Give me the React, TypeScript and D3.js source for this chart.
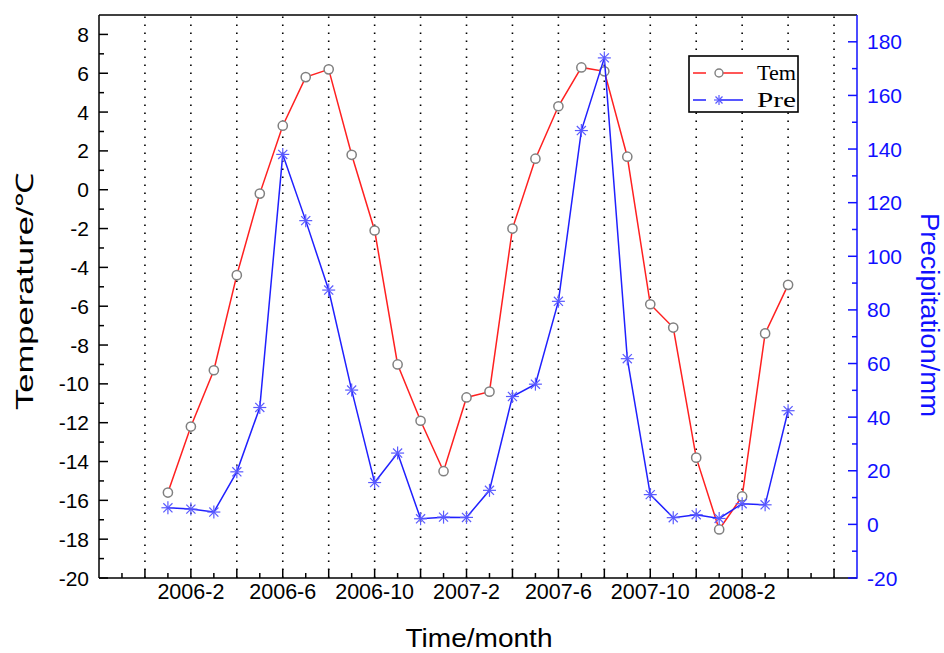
import React from "react";
import * as d3 from "d3";

const months = [
  "2006-1","2006-2","2006-3","2006-4","2006-5","2006-6","2006-7","2006-8","2006-9","2006-10","2006-11","2006-12",
  "2007-1","2007-2","2007-3","2007-4","2007-5","2007-6","2007-7","2007-8","2007-9","2007-10","2007-11","2007-12",
  "2008-1","2008-2","2008-3","2008-4",
];
const temValues = [-15.6,-12.2,-9.3,-4.4,-0.2,3.3,5.8,6.2,1.8,-2.1,-9.0,-11.9,-14.5,-10.7,-10.4,-2.0,1.6,4.3,6.3,6.1,1.7,-5.9,-7.1,-13.8,-17.5,-15.8,-7.4,-4.9];
const preValues = [6.2,5.7,4.6,19.6,43.6,138,113.3,87.4,50.1,15.6,26.6,2.1,2.7,2.6,12.7,47.7,52.3,83.2,146.9,174,61.8,11.1,2.5,3.6,2.2,7.7,7.3,42.4];
const xTickLabels = ["2006-2","2006-6","2006-10","2007-2","2007-6","2007-10","2008-2"];
const leftTicks = [-20,-18,-16,-14,-12,-10,-8,-6,-4,-2,0,2,4,6,8];
const rightTicks = [-20,0,20,40,60,80,100,120,140,160,180];
const seriesNames = ["Tem", "Pre"];

const L = 99, R = 857, T = 15, B = 578;
const BLUE = "#1010ff";

export default function App() {
  const x = d3.scaleLinear().domain([-3, 30]).range([L, R]);
  const yL = d3.scaleLinear().domain([-20, 9]).range([B, T]);
  const yR = d3.scaleLinear().domain([-20, 190]).range([B, T]);
  const idx = months.map((_, i) => i);

  const temLine = d3.line<number>().x((i) => x(i)).y((i) => yL(temValues[i]));
  const preLine = d3.line<number>().x((i) => x(i)).y((i) => yR(preValues[i]));

  const majorX = d3.range(-1, 30, 2);
  const minorX = d3.range(-2, 30, 2);
  const minorL = d3.range(-19, 9, 2);
  const minorR = d3.range(-10, 190, 20);

  const star = (cx: number, cy: number, r: number, key: string | number) => (
    <g key={key} stroke="#5a5aff" strokeWidth={1.2}>
      <line x1={cx - r} y1={cy} x2={cx + r} y2={cy} />
      <line x1={cx} y1={cy - r} x2={cx} y2={cy + r} />
      <line x1={cx - r * 0.7} y1={cy - r * 0.7} x2={cx + r * 0.7} y2={cy + r * 0.7} />
      <line x1={cx - r * 0.7} y1={cy + r * 0.7} x2={cx + r * 0.7} y2={cy - r * 0.7} />
    </g>
  );

  const font = "'Liberation Sans', Arial, sans-serif";
  const serif = "'Liberation Serif', 'Times New Roman', serif";

  return (
    <svg width={944} height={653} style={{ position: "absolute", left: 0, top: 0, background: "#fff" }}>
      <rect x={0} y={0} width={944} height={653} fill="#fff" />
      {/* gridlines */}
      {majorX.map((i) => (
        <line key={"g" + i} x1={x(i)} x2={x(i)} y1={B} y2={T} stroke="#000" strokeWidth={1.6} strokeDasharray="1.6 6.4" />
      ))}
      {/* frame */}
      <line x1={L} x2={R} y1={T} y2={T} stroke="#000" strokeWidth={1.5} />
      <line x1={L} x2={L} y1={T} y2={B} stroke="#000" strokeWidth={1.5} />
      <line x1={L} x2={R} y1={B} y2={B} stroke="#000" strokeWidth={1.5} />
      <line x1={R} x2={R} y1={T} y2={B + 0.75} stroke={BLUE} strokeWidth={1.5} />
      {/* bottom ticks */}
      {majorX.map((i) => (
        <line key={"bx" + i} x1={x(i)} x2={x(i)} y1={B} y2={B - 9} stroke="#000" strokeWidth={1.5} />
      ))}
      {minorX.map((i) => (
        <line key={"mx" + i} x1={x(i)} x2={x(i)} y1={B} y2={B - 5} stroke="#000" strokeWidth={1.5} />
      ))}
      {xTickLabels.map((lab) => (
        <text key={lab} x={x(months.indexOf(lab))} y={599} textAnchor="middle" fontFamily={font} fontSize={21.5} fill="#000">
          {lab}
        </text>
      ))}
      {/* left ticks */}
      {leftTicks.map((v) => (
        <g key={"l" + v}>
          <line x1={L} x2={L + 9} y1={yL(v)} y2={yL(v)} stroke="#000" strokeWidth={1.5} />
          <text x={89} y={yL(v) + 7.5} textAnchor="end" fontFamily={font} fontSize={21} fill="#000">{v}</text>
        </g>
      ))}
      {minorL.map((v) => (
        <line key={"ml" + v} x1={L} x2={L + 5} y1={yL(v)} y2={yL(v)} stroke="#000" strokeWidth={1.5} />
      ))}
      {/* right ticks */}
      {rightTicks.map((v) => (
        <g key={"r" + v}>
          <line x1={R} x2={R - 9} y1={yR(v)} y2={yR(v)} stroke={BLUE} strokeWidth={1.5} />
          <text x={867} y={yR(v) + 7.5} textAnchor="start" fontFamily={font} fontSize={21} fill={BLUE}>{v}</text>
        </g>
      ))}
      {minorR.map((v) => (
        <line key={"mr" + v} x1={R} x2={R - 5} y1={yR(v)} y2={yR(v)} stroke={BLUE} strokeWidth={1.5} />
      ))}
      {/* axis titles */}
      <text x={479} y={647} textAnchor="middle" fontFamily={font} fontSize={26} fill="#000" textLength={147} lengthAdjust="spacingAndGlyphs">Time/month</text>
      <text transform="translate(33,291) rotate(-90)" textAnchor="middle" fontFamily={font} fontSize={24} fill="#000" textLength={238} lengthAdjust="spacingAndGlyphs">Temperature/℃</text>
      <text transform="translate(921,315) rotate(90)" textAnchor="middle" fontFamily={font} fontSize={25} fill={BLUE} textLength={204} lengthAdjust="spacingAndGlyphs">Precipitation/mm</text>
      {/* Tem series */}
      <path d={temLine(idx) || ""} fill="none" stroke="#ff2020" strokeWidth={1.5} />
      {idx.map((i) => (
        <circle key={"t" + i} cx={x(i)} cy={yL(temValues[i])} r={4.6} fill="#fff" stroke="#808080" strokeWidth={1.5} />
      ))}
      {/* Pre series */}
      <path d={preLine(idx) || ""} fill="none" stroke="#2020ff" strokeWidth={1.5} />
      {idx.map((i) => star(x(i), yR(preValues[i]), 6.5, "p" + i))}
      {/* legend */}
      <rect x={689} y={56} width={109} height={56} fill="#fff" stroke="#000" strokeWidth={1.6} />
      <line x1={693} x2={743} y1={73} y2={73} stroke="#ff2020" strokeWidth={1.5} strokeDasharray="13 12 25" />
      <circle cx={719} cy={73} r={4} fill="#fff" stroke="#808080" strokeWidth={1.4} />
      <text x={757} y={80} fontFamily={serif} fontSize={21} fill="#000" textLength={39} lengthAdjust="spacingAndGlyphs">{seriesNames[0]}</text>
      <line x1={693} x2={743} y1={100} y2={100} stroke="#2020ff" strokeWidth={1.5} strokeDasharray="13 12 25" />
      {star(719, 100, 5, "legstar")}
      <text x={757} y={107} fontFamily={serif} fontSize={21} fill="#000" textLength={39} lengthAdjust="spacingAndGlyphs">{seriesNames[1]}</text>
    </svg>
  );
}
